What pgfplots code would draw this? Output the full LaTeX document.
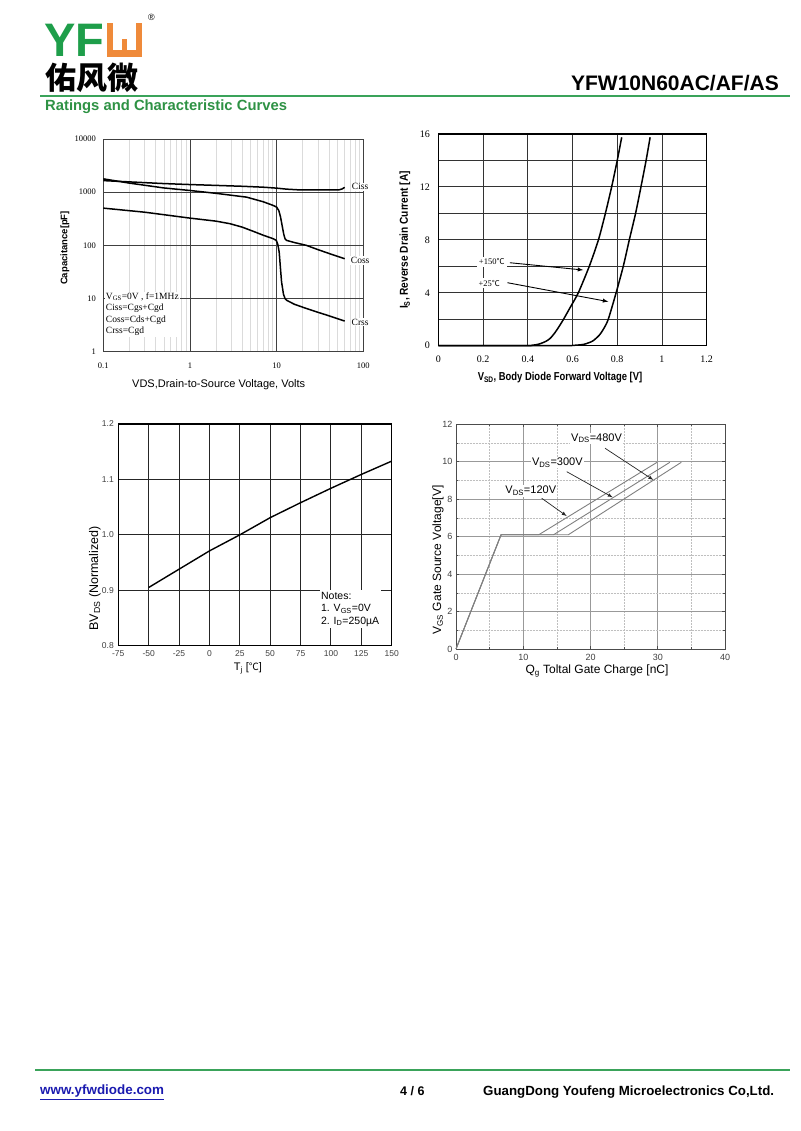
\documentclass[border=0pt]{standalone}
\usepackage{pgfplots}
\pgfplotsset{compat=1.18}
\usepackage{graphicx}
\usepackage{fontspec}
\setmainfont{Liberation Sans}
\newfontfamily\serif{Liberation Serif}
\newfontfamily\cjk{Noto Sans CJK SC}
\definecolor{ygreen}{HTML}{1E9E4A}
\definecolor{lgreen}{HTML}{3AA35A}
\definecolor{tgreen}{HTML}{2E9244}
\definecolor{yorange}{HTML}{EF8A3A}
\definecolor{linkblue}{HTML}{1A1AB0}
\newcommand{\fs}[1]{\fontsize{#1}{#1}\selectfont}
\begin{document}
\begin{tikzpicture}[x=1pt,y=1pt]
\fill[white] (0,0) rectangle (800,1131);
% ---------- header ----------
\node[anchor=base west, inner sep=0, text depth=0pt, text=ygreen, font=\bfseries\fs{47}] at (44,1074) {YF};
\fill[yorange] (107,1074) rectangle (142,1108);
\fill[white] (113,1081) rectangle (136,1108);
\fill[yorange] (122,1081) rectangle (127,1092);
\node[anchor=base west, inner sep=0, font=\fs{9}] at (148,1110) {®};
\node[anchor=base west, inner sep=0, text height=24pt, font=\cjk\bfseries\fs{31}] at (45,1041) {佑风微};
\node[anchor=base east, inner sep=0, font=\bfseries\fs{21}] at (779,1040) {YFW10N60AC/AF/AS};
\draw[lgreen, line width=2] (40,1035) -- (790,1035);
\node[anchor=base west, inner sep=0, text=tgreen, font=\bfseries\fs{14.8}] at (45,1020) {Ratings and Characteristic Curves};
% ---------- footer ----------
\draw[lgreen, line width=2.2] (35,61) -- (790,61);
\node[anchor=base west, inner sep=0, text=linkblue, font=\bfseries\fs{13.4}] at (40,36) {\underline{www.yfwdiode.com}};
\node[anchor=base west, inner sep=0, font=\bfseries\fs{12.5}] at (400,35) {4 / 6};
\node[anchor=base west, inner sep=0, font=\bfseries\fs{13.3}] at (483,35) {GuangDong Youfeng Microelectronics Co,Ltd.};

% ---------- chart 1: capacitance ----------
\begin{axis}[at={(103.3pt,779.3pt)}, anchor=south west, scale only axis,
  width=260pt, height=212.7pt, clip=false,
  xmode=log, ymode=log, xmin=0.1, xmax=100, ymin=1, ymax=10000,
  axis line style={draw=none},
  xtick={0.1,1,10,100}, xticklabels={0.1,1,10,100},
  ytick={1,10,100,1000,10000}, yticklabels={1,10,100,1000,10000},
  minor xtick={0.2,0.3,0.4,0.5,0.6,0.7,0.8,0.9,2,3,4,5,6,7,8,9,20,30,40,50,60,70,80,90},
  minor ytick={},
  major tick length=0pt, minor tick length=0pt,
  xmajorgrids, ymajorgrids, xminorgrids,
  major grid style={black!75, line width=0.9pt},
  minor grid style={black!14, line width=0.6pt},
  ticklabel style={font=\serif\fs{8.5}},
  xticklabel style={yshift=-8pt},
  yticklabel style={xshift=-4pt}]
\addplot[black, line width=1.5pt, line join=round] coordinates {
(0.1,1650) (0.2,1560) (0.5,1450) (1,1390) (2,1340) (4,1290) (7,1240) (10,1190)
(13,1140) (17,1110) (25,1100) (40,1100) (53,1110) (57,1150) (61,1230)};
\addplot[black, line width=1.5pt, line join=round] coordinates {
(0.1,1780) (0.2,1480) (0.5,1200) (1,1075) (2,950) (4.5,806) (7,660) (9.2,560)
(10,523) (10.6,450) (11.1,340) (11.6,230) (12.1,160) (12.5,133) (13,124) (16,113)
(22,100) (30,83) (45,66) (61,56)};
\addplot[black, line width=1.5pt, line join=round] coordinates {
(0.1,501) (0.3,420) (1,325) (2,285) (2.9,255) (4,220) (5.4,183) (7,155) (9.15,133)
(9.9,124) (10.3,105) (10.7,75) (11.1,35) (11.4,20.5) (12,12) (12.5,10) (13,9.3)
(16,7.8) (22,6.5) (30,5.5) (38,4.87) (50,4.2) (61,3.76)};
\node[fill=white, inner sep=1pt, font=\serif\fs{9.5}] at (axis cs:92,1260) {Ciss};
\node[fill=white, inner sep=1pt, font=\serif\fs{9.5}] at (axis cs:92,52) {Coss};
\node[fill=white, inner sep=1pt, font=\serif\fs{9.5}] at (axis cs:92,3.6) {Crss};
\node[anchor=north west, fill=white, inner sep=1pt, align=left, font=\serif\fs{9.5}]
  at (axis cs:0.104,13.5) {V\textsubscript{GS}=0V , f=1MHz\\[2pt]Ciss=Cgs+Cgd\\[2pt]Coss=Cds+Cgd\\[2pt]Crss=Cgd};
\end{axis}
\node[rotate=90, font=\bfseries\fs{9.5}] at (65,883) {Capacitance[pF]};
\node[font=\fs{11}] at (218.7,746) {VDS,Drain-to-Source Voltage, Volts};

% ---------- chart 2: body diode ----------
\begin{axis}[at={(438.3pt,785.3pt)}, anchor=south west, scale only axis,
  width=268.4pt, height=211.7pt, clip=false,
  xmin=0, xmax=1.2, ymin=0, ymax=16,
  axis line style={black, line width=1.4pt},
  xtick={0,0.2,0.4,0.6,0.8,1,1.2}, xticklabels={0,0.2,0.4,0.6,0.8,1,1.2},
  ytick={0,4,8,12,16}, yticklabels={0,4,8,12,16},
  minor ytick={2,6,10,14},
  major tick length=0pt, minor tick length=0pt,
  grid=both,
  major grid style={black!80, line width=0.9pt},
  minor grid style={black!80, line width=0.9pt},
  ticklabel style={font=\serif\fs{10}},
  xticklabel style={yshift=-7pt},
  yticklabel style={xshift=-5pt}]
\addplot[black, line width=1.5pt, smooth, tension=0.4] coordinates {
(0,0) (0.38,0) (0.42,0.03) (0.45,0.12) (0.48,0.32) (0.5,0.55) (0.52,0.95) (0.54,1.45)
(0.56,2.0) (0.59,2.9) (0.626,4) (0.675,6) (0.716,8) (0.747,10) (0.775,12) (0.80,14) (0.82,15.75)};
\addplot[black, line width=1.5pt, smooth, tension=0.4] coordinates {
(0,0) (0.55,0) (0.6,0.02) (0.65,0.1) (0.69,0.35) (0.72,0.8) (0.74,1.3) (0.76,2)
(0.795,4) (0.827,6) (0.854,8) (0.882,10) (0.906,12) (0.929,14) (0.947,15.75)};
\node[fill=white, inner sep=2pt, font=\serif\fs{8.5}] at (axis cs:0.239,6.35) {+150{\cjk\fs{8}℃}};
\node[fill=white, inner sep=2pt, font=\serif\fs{8.5}] at (axis cs:0.228,4.71) {+25{\cjk\fs{8}℃}};
\draw[-latex, black, line width=0.9pt] (axis cs:0.32,6.27) -- (axis cs:0.648,5.72);
\draw[-latex, black, line width=0.9pt] (axis cs:0.309,4.76) -- (axis cs:0.76,3.33);
\end{axis}
\node[rotate=90, font=\bfseries\fs{11.5}] at (405,891) {\scalebox{0.88}[1]{I\textsubscript{S}, Reverse Drain Current [A]}};
\node[font=\bfseries\fs{11.5}] at (560,753) {\scalebox{0.82}[1]{V\textsubscript{SD}, Body Diode Forward Voltage [V]}};

% ---------- chart 3: BVdss ----------
\begin{axis}[at={(118.3pt,485.3pt)}, anchor=south west, scale only axis,
  width=273.4pt, height=221.7pt, clip=false,
  xmin=-75, xmax=150, ymin=0.8, ymax=1.2,
  axis line style={black, line width=1.3pt},
  xtick={-75,-50,-25,0,25,50,75,100,125,150},
  xticklabels={-75,-50,-25,0,25,50,75,100,125,150},
  ytick={0.8,0.9,1.0,1.1,1.2}, yticklabels={0.8,0.9,1.0,1.1,1.2},
  major tick length=0pt,
  grid=major, major grid style={black!85, line width=1pt},
  ticklabel style={font=\fs{8.5}, text=black!75},
  xticklabel style={yshift=-1pt},
  yticklabel style={xshift=-1pt}]
\addplot[black, line width=1.4pt] coordinates {
(-50,0.905) (-25,0.938) (0,0.971) (25,1.0) (50,1.031) (75,1.058) (100,1.084) (125,1.109) (150,1.133)};
\node[anchor=north west, fill=white, inner sep=1.5pt, align=left, font=\fs{10.5}]
  at (axis cs:90.5,0.9) {Notes:\\[2pt]1. V\textsubscript{GS}=0V\\[2pt]2. I\textsubscript{D}=250µA};
\end{axis}
\node[rotate=90, font=\fs{12.5}] at (95,552.5) {BV\textsubscript{DS} (Normalized)};
\node[font=\fs{11}] at (248,463) {T\textsubscript{j} [{\cjk\fs{10}℃}]};

% ---------- chart 4: gate charge ----------
\begin{axis}[at={(456pt,482pt)}, anchor=south west, scale only axis,
  width=269pt, height=224.7pt, clip=false,
  xmin=0, xmax=40, ymin=0, ymax=12,
  axis line style={black!70, line width=0.9pt},
  xtick={0,10,20,30,40}, xticklabels={0,10,20,30,40},
  ytick={0,2,4,6,8,10,12}, yticklabels={0,2,4,6,8,10,12},
  minor xtick={5,15,25,35}, minor ytick={1,3,5,7,9,11},
  tick align=inside, major tick length=3pt, minor tick length=2pt,
  tick style={black!70, line width=0.6pt},
  grid=both,
  major grid style={black!40, line width=0.6pt},
  minor grid style={black!25, line width=0.5pt, densely dotted},
  ticklabel style={font=\fs{9}, text=black!75},
  xticklabel style={yshift=-2pt}]
\addplot[black!50, line width=0.9pt] coordinates {(0,0) (6.7,6.1) (12.3,6.1) (29.9,9.97)};
\addplot[black!50, line width=0.9pt] coordinates {(0,0) (6.7,6.1) (14.5,6.1) (31.8,9.97)};
\addplot[black!50, line width=0.9pt] coordinates {(0,0) (6.7,6.1) (16.7,6.1) (33.5,9.97)};
\node[fill=white, inner sep=1pt, font=\fs{11}] at (axis cs:20.9,11.25) {V\textsubscript{DS}=480V};
\node[fill=white, inner sep=1pt, font=\fs{11}] at (axis cs:15.07,9.95) {V\textsubscript{DS}=300V};
\node[fill=white, inner sep=1pt, font=\fs{11}] at (axis cs:11.12,8.44) {V\textsubscript{DS}=120V};
\draw[-latex, black!85, line width=0.7pt] (axis cs:22.16,10.72) -- (axis cs:29.34,9.03);
\draw[-latex, black!85, line width=0.7pt] (axis cs:16.46,9.47) -- (axis cs:23.3,8.1);
\draw[-latex, black!85, line width=0.7pt] (axis cs:12.74,8.05) -- (axis cs:16.46,7.1);
\end{axis}
\node[rotate=90, font=\fs{12}] at (438,571) {V\textsubscript{GS} Gate Source Voltage[V]};
\node[font=\fs{12}] at (597,460) {Q\textsubscript{g} Toltal Gate Charge [nC]};
\end{tikzpicture}
\end{document}
